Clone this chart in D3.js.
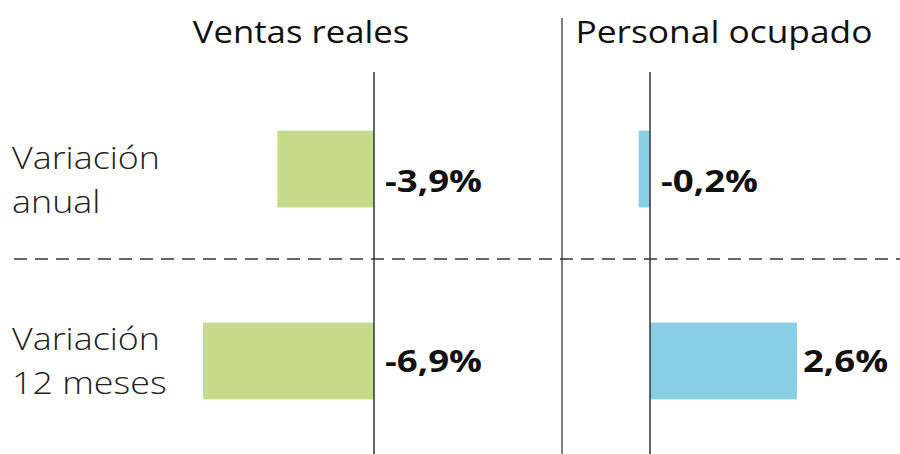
<!DOCTYPE html>
<html lang="es">
<head>
<meta charset="utf-8">
<script src="https://d3js.org/d3.v7.min.js"></script>
<style type="text/css">
body {
  margin: 0;
  background-color: #ffffff;
  font-family: "Open Sans", sans-serif;
}
</style>
</head>
<body>
<script type="text/javascript">

// data
var rows = ["Variación anual", "Variación 12 meses"];
var rowLines = [["Variación", "anual"], ["Variación", "12 meses"]];
var ventas = [-3.9, -6.9];
var personal = [-0.2, 2.6];
var panelTitles = ["Ventas reales", "Personal ocupado"];

var width = 900;
var height = 454;
var stretch = 1.12; // text in the original is a bit wide

var svg = d3.select("body")
  .append("svg")
  .attr("width", width)
  .attr("height", height);

// row positions
var y = d3.scaleBand()
  .domain(rows)
  .range([75, 455])
  .paddingInner(0.6)
  .paddingOuter(0.29);

// one x scale per panel
var xVentas = d3.scaleLinear().domain([-7, 0]).range([200.5, 374]);
var xPersonal = d3.scaleLinear().domain([-1, 3]).range([593.5, 819.5]);

// spanish decimal comma, plain hyphen for the minus
var fmt = function(v) {
  return d3.format(".1f")(v).replace("\u2212", "-").replace(".", ",") + "%";
};

function wideText(sel, x, yy, txt, sx) {
  return sel.append("g")
    .attr("transform", "translate(" + x + "," + yy + ") scale(" + (sx || stretch) + ",1)")
    .append("text")
    .text(txt);
}

// titles
wideText(svg, 301, 43, panelTitles[0])
  .attr("text-anchor", "middle")
  .style("font-size", "31px")
  .style("fill", "#111");
wideText(svg, 724, 43, panelTitles[1], 1.14)
  .attr("text-anchor", "middle")
  .style("font-size", "31px")
  .style("fill", "#111");

// separator between panels
svg.append("line")
  .attr("x1", 562).attr("x2", 562)
  .attr("y1", 18).attr("y2", height)
  .style("stroke", "#555")
  .style("stroke-width", 1.5);

// dashed line between rows
svg.append("line")
  .attr("x1", 14).attr("x2", width)
  .attr("y1", 259).attr("y2", 259)
  .style("stroke", "#333")
  .style("stroke-width", 1.3)
  .style("stroke-dasharray", "13,8");

// row labels
rows.forEach(function(r, i) {
  var base = y(r) + (i === 0 ? 38 : 27);
  rowLines[i].forEach(function(t, j) {
    wideText(svg, 12, base + j * 44, t)
      .style("font-size", "32px")
      .style("font-weight", 300)
      .style("fill", "#222");
  });
});

function drawPanel(values, x, color) {
  var g = svg.append("g");

  g.selectAll("rect")
    .data(values)
    .enter()
    .append("rect")
    .attr("x", function(d) { return x(Math.min(0, d)); })
    .attr("y", function(d, i) { return y(rows[i]); })
    .attr("width", function(d) { return Math.abs(x(d) - x(0)); })
    .attr("height", y.bandwidth())
    .style("fill", color);

  g.append("line")
    .attr("x1", x(0)).attr("x2", x(0))
    .attr("y1", 72).attr("y2", height)
    .style("stroke", "#333")
    .style("stroke-width", 1.5);

  values.forEach(function(d, i) {
    var lx = d < 0 ? x(0) + 11 : x(d) + 6;
    var ly = y(rows[i]) + y.bandwidth() / 2 + (i === 0 ? 23 : 11);
    wideText(g, lx, ly, fmt(d), 1.22)
      .style("font-size", "30px")
      .style("font-weight", 700)
      .style("fill", "#111");
  });
}

drawPanel(ventas, xVentas, "#c6da89");
drawPanel(personal, xPersonal, "#88cfe6");

</script>
</body>
</html>
